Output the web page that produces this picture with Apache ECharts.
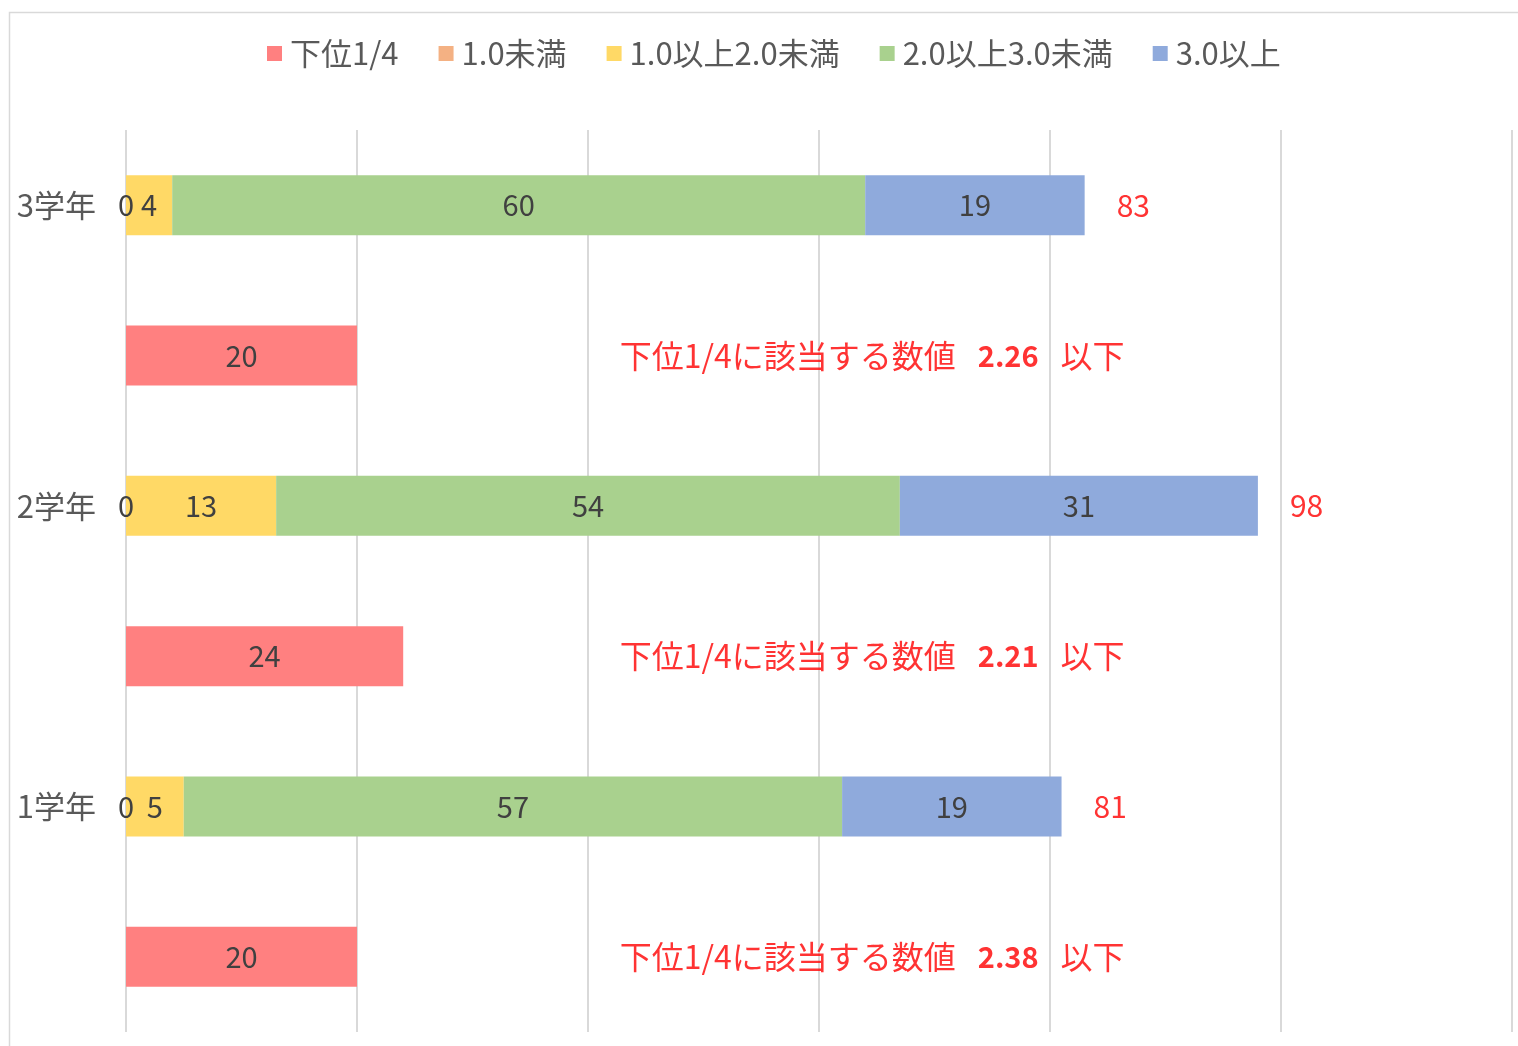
<!DOCTYPE html>
<html><head><meta charset="utf-8">
<script src="https://cdn.jsdelivr.net/npm/echarts@6/dist/echarts.min.js"></script>
<style>html,body{margin:0;padding:0;background:#fff}#c{width:1518px;height:1046px}</style>
</head><body><div id="c"></div>
<script>
// categories bottom -> top (ECharts category y axis starts at bottom)
const categories = ['1学年下位', '1学年', '2学年下位', '2学年', '3学年下位', '3学年'];
const seriesNames = ['下位1/4', '1.0未満', '1.0以上2.0未満', '2.0以上3.0未満', '3.0以上'];
const lowerQuarter = [20, '-', 24, '-', 20, '-'];
const under1 = ['-', 0, '-', 0, '-', 0];
const from1to2 = ['-', 5, '-', 13, '-', 4];
const from2to3 = ['-', 57, '-', 54, '-', 60];
const over3 = ['-', 19, '-', 31, '-', 19];
const thresholds = ['2.38', '2.21', '2.26']; // 1学年, 2学年, 3学年
const xTicks = [0, 20, 40, 60, 80, 100, 120];

const colors = ['#FF8080', '#F4B183', '#FFD966', '#A9D18E', '#8FAADC'];
const font = '"Noto Sans CJK JP", "Noto Sans", sans-serif';

const totals = categories.map((c, i) => {
  if (lowerQuarter[i] !== '-') return null;
  return [under1, from1to2, from2to3, over3].reduce((s, a) => s + a[i], 0);
});
const totalData = totals.map((t, i) => t === null ? null : [t, i]).filter(Boolean);
const lowerRows = categories.map((c, i) => i).filter(i => lowerQuarter[i] !== '-');
const annoData = lowerRows.map((r, k) => ({ value: [64.6, r], th: thresholds[k] }));

const allData = [lowerQuarter, under1, from1to2, from2to3, over3];
const barSeries = seriesNames.map((n, k) => ({
  name: n, type: 'bar', stack: 'a', data: allData[k], barWidth: 60,
  itemStyle: { color: colors[k] },
  label: { show: true, position: 'inside', color: '#404040', fontSize: 29, fontFamily: font }
}));

const chart = echarts.init(document.getElementById('c'));
chart.setOption({
  animation: false,
  textStyle: { fontFamily: font },
  graphic: [{ type: 'rect', shape: { x: 9.5, y: 12.5, width: 1540, height: 1060 }, style: { fill: 'none', stroke: '#d9d9d9', lineWidth: 1.5 }, silent: true }],
  legend: {
    top: 33, left: 262, itemWidth: 15, itemHeight: 15, itemGap: 40,
    data: seriesNames, icon: 'rect',
    textStyle: { fontSize: 31, color: '#595959', fontFamily: font, padding: [0, 0, 0, 3] }
  },
  grid: { left: 126, right: 6, top: 130, bottom: 14 },
  xAxis: {
    type: 'value', min: xTicks[0], max: xTicks[xTicks.length - 1], interval: 20,
    axisLabel: { show: false }, axisLine: { show: false }, axisTick: { show: false },
    splitLine: { lineStyle: { color: '#d9d9d9', width: 2 } }
  },
  yAxis: {
    type: 'category', data: categories,
    axisLine: { show: false }, axisTick: { show: false },
    axisLabel: { margin: 30, fontSize: 31, color: '#595959', fontFamily: font,
      formatter: v => v.indexOf('下位') >= 0 ? '' : v }
  },
  series: barSeries.concat([
    { type: 'scatter', data: totalData, symbolSize: 0, silent: true,
      label: { show: true, position: 'right', distance: 32, color: '#FF0000', fontSize: 30, fontFamily: font,
        formatter: p => p.value[0] } },
    { type: 'scatter', data: annoData, symbolSize: 0, silent: true,
      label: { show: true, position: 'inside', color: '#FF0000', fontFamily: font,
        formatter: p => '{a|下位1/4に該当する数値}{b|' + p.data.th + '}{a|以下}',
        rich: { a: { fontSize: 32, color: '#FF0000', fontFamily: font },
                b: { fontSize: 29, fontWeight: 'bold', color: '#FF0000', fontFamily: font, padding: [0, 22] } } } }
  ])
});
</script></body></html>
